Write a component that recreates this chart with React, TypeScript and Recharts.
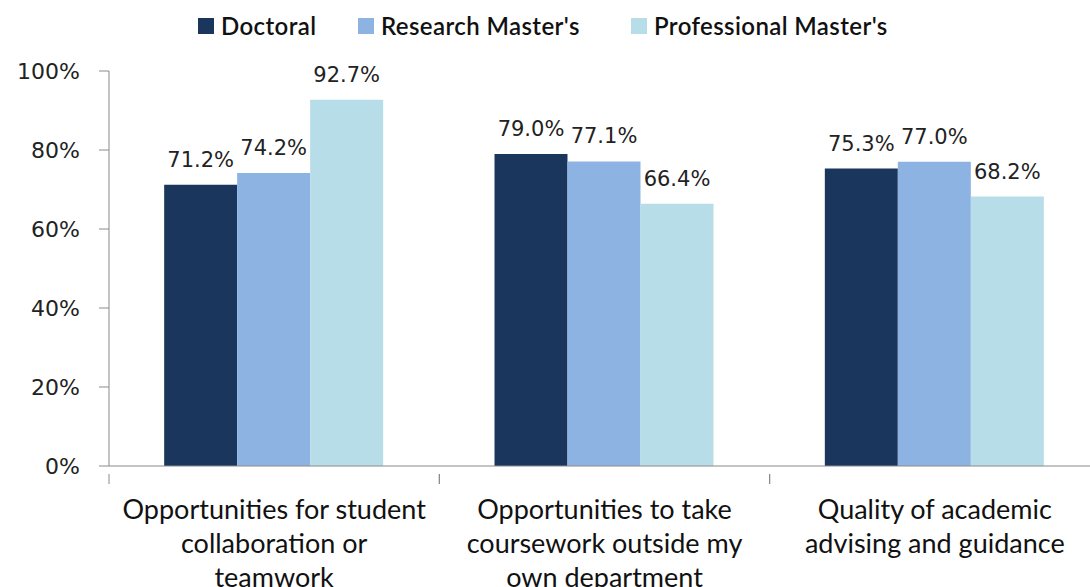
import { BarChart, Bar, XAxis, YAxis, LabelList } from "recharts"

const categories = [
  ["Opportunities for student", "collaboration or", "teamwork"],
  ["Opportunities to take", "coursework outside my", "own department"],
  ["Quality of academic", "advising and guidance"],
]
const doctoral = [0.712, 0.79, 0.753]
const researchMasters = [0.742, 0.771, 0.77]
const professionalMasters = [0.927, 0.664, 0.682]
const yTicks = [0, 0.2, 0.4, 0.6, 0.8, 1]

const series = [
  { key: "doctoral", name: "Doctoral", color: "#1b365d" },
  { key: "research", name: "Research Master's", color: "#8db3e2" },
  { key: "professional", name: "Professional Master's", color: "#b7dde8" },
]

// left edge of each legend swatch
const legendLeft = [198, 358, 631]

const data = categories.map((lines, i) => ({
  name: lines.join("\n"),
  doctoral: doctoral[i],
  research: researchMasters[i],
  professional: professionalMasters[i],
}))

const axisColor = "#8a8a8a"
const labelFont = "'DejaVu Sans', Verdana, sans-serif"
const catFont = "Lato, 'Open Sans', sans-serif"

const pct = (v: number) => `${(v * 100).toFixed(1)}%`

function CategoryTick(props: any) {
  const { x, y, payload } = props
  const half = payload?.offset || 165
  const lines = String(payload.value).split("\n")
  return (
    <g>
      <line x1={x - half} y1={y} x2={x - half} y2={y + 10} stroke={axisColor} />
      <line x1={x + half} y1={y} x2={x + half} y2={y + 10} stroke={axisColor} />
      {lines.map((l, i) => (
        <text
          key={i}
          x={x}
          y={y + 45 + i * 34}
          textAnchor="middle"
          fontFamily={catFont}
          fontSize={27}
          fill="#111"
        >
          {l}
        </text>
      ))}
    </g>
  )
}

export default function App() {
  return (
    <div
      style={{
        position: "absolute",
        left: 0,
        top: 0,
        width: 1090,
        height: 587,
        overflow: "hidden",
        background: "#fff",
      }}
    >
      {series.map((s, i) => (
        <div
          key={s.key}
          style={{
            position: "absolute",
            left: legendLeft[i],
            top: 11,
            display: "flex",
            alignItems: "center",
            fontFamily: catFont,
            fontSize: 24,
            fontWeight: 600,
            letterSpacing: 0.4,
            color: "#111",
            whiteSpace: "nowrap",
          }}
        >
          <span
            style={{
              display: "inline-block",
              width: 16,
              height: 16,
              background: s.color,
              marginRight: 7,
            }}
          />
          <span>{s.name}</span>
        </div>
      ))}
      <BarChart
        width={1100}
        height={587}
        data={data}
        margin={{ top: 71, right: 0, left: 0, bottom: 0 }}
        barCategoryGap="16.7%"
        barGap={0}
      >
        <XAxis
          dataKey="name"
          height={121}
          interval={0}
          stroke={axisColor}
          tickLine={false}
          tick={<CategoryTick />}
        />
        <YAxis
          width={109}
          domain={[0, 1]}
          ticks={yTicks}
          stroke={axisColor}
          tickSize={10}
          tickMargin={19}
          tickFormatter={(v) => `${Math.round(v * 100)}%`}
          tick={{ fill: "#222", fontSize: 22, fontFamily: labelFont }}
        />
        {series.map((s) => (
          <Bar
            key={s.key}
            dataKey={s.key}
            name={s.name}
            fill={s.color}
            isAnimationActive={false}
          >
            <LabelList
              dataKey={s.key}
              position="top"
              offset={18}
              formatter={(v: any) => pct(Number(v))}
              style={{ fill: "#222", fontSize: 21, fontFamily: labelFont }}
            />
          </Bar>
        ))}
      </BarChart>
    </div>
  )
}
